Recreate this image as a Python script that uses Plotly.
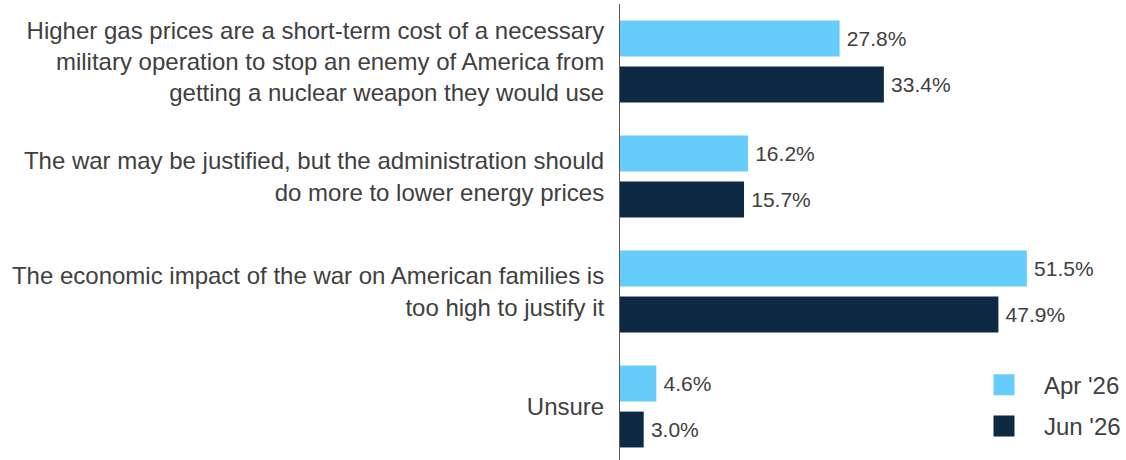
import plotly.graph_objects as go

categories = [
    "Higher gas prices are a short-term cost of a necessary<br>military operation to stop an enemy of America from<br>getting a nuclear weapon they would use",
    "The war may be justified, but the administration should<br>do more to lower energy prices",
    "The economic impact of the war on American families is<br>too high to justify it",
    "Unsure",
]
series_names = ["Apr '26", "Jun '26"]
apr_values = [27.8, 16.2, 51.5, 4.6]
jun_values = [33.4, 15.7, 47.9, 3.0]

colors = ["#66CDFA", "#0D2944"]
text_color = "#404040"
font_family = "Liberation Sans, Arial, sans-serif"

fig = go.Figure()

for name, vals, col in zip(series_names, [apr_values, jun_values], colors):
    fig.add_trace(go.Bar(
        y=categories,
        x=vals,
        orientation='h',
        name=name,
        marker=dict(color=col, line=dict(width=0)),
        # thin space keeps the label a few px off the bar end
        text=[f"\u2009{v:.1f}%" for v in vals],
        textposition='outside',
        textfont=dict(size=21, color=text_color, family=font_family),
        cliponaxis=False,
        showlegend=False,
        hoverinfo='skip',
    ))

# legend-only entries, square markers bigger than the default bar swatch
for i, (name, col) in enumerate(zip(series_names, colors)):
    fig.add_trace(go.Scatter(
        x=[None], y=[None],
        mode='markers',
        name=name,
        legendgroup=f"g{i}",
        marker=dict(symbol='square', size=16, color=col,
                    line=dict(color=col, width=5)),
    ))

fig.update_layout(
    width=1126,
    height=460,
    barmode='group',
    bargap=0.2,
    bargroupgap=0.22,
    plot_bgcolor='white',
    paper_bgcolor='white',
    font=dict(family=font_family, color=text_color, size=24),
    margin=dict(l=620, r=31, t=4, b=0),
    legend=dict(
        x=1.067, xanchor='right',
        y=0.025, yanchor='bottom',
        font=dict(size=24, color=text_color),
        itemwidth=70,
        tracegroupgap=7,
        bgcolor='rgba(0,0,0,0)',
    ),
)

fig.update_xaxes(
    range=[0, 60],
    visible=False,
    showgrid=False,
    zeroline=False,
)

fig.update_yaxes(
    range=[3.465, -0.5],
    automargin=False,
    showline=True,
    linecolor='#595959',
    linewidth=1,
    showgrid=False,
    ticks='',
    ticklabelstandoff=10,
    tickfont=dict(size=24, color=text_color),
)

# drop the browser's default body margin so the figure sits at the page corner
fig.write_html(
    "out.html",
    config={'displayModeBar': False},
    post_script="document.body.style.margin='0';",
)
